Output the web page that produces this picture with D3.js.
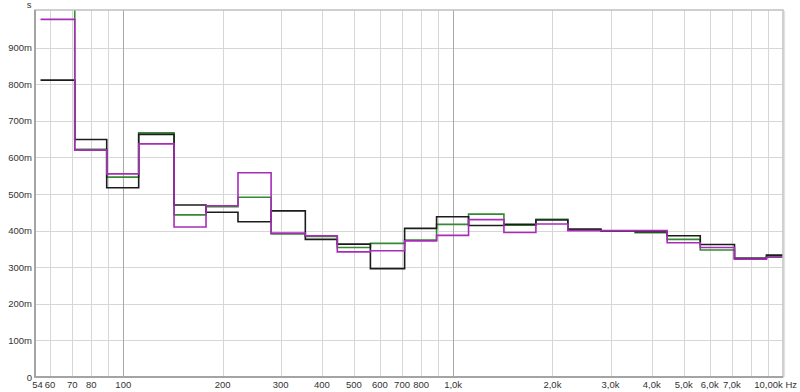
<!DOCTYPE html>
<html><head><meta charset="utf-8">
<script src="https://cdn.jsdelivr.net/npm/d3@7"></script>
<style>html,body{margin:0;padding:0;background:#fff;}svg{display:block;}</style>
</head><body>
<svg id="c" width="800" height="392"></svg>
<script>
// 1/3-octave band centre frequencies (Hz)
const bands = [63,80,100,125,160,200,250,315,400,500,630,800,1000,1250,1600,2000,2500,3150,4000,5000,6300,8000,10000];
// decay time values (s) per band
const seriesBlack   = [0.811,0.649,0.517,0.663,0.470,0.450,0.424,0.454,0.376,0.363,0.296,0.406,0.438,0.414,0.417,0.429,0.404,0.399,0.397,0.386,0.362,0.324,0.333];
const seriesGreen   = [1.050,0.622,0.546,0.667,0.443,0.465,0.491,0.391,0.384,0.354,0.365,0.374,0.417,0.445,0.415,0.431,0.402,0.399,0.394,0.376,0.347,0.324,0.330];
const seriesMagenta = [0.977,0.620,0.555,0.637,0.410,0.468,0.558,0.393,0.386,0.342,0.345,0.372,0.387,0.430,0.395,0.418,0.400,0.400,0.400,0.367,0.354,0.322,0.327];
// axis ticks
const xTickValues = [54,60,70,80,100,200,300,400,500,600,700,800,1000,2000,3000,4000,5000,6000,7000];
const xTickLabels = ["54","60","70","80","100","200","300","400","500","600","700","800","1,0k","2,0k","3,0k","4,0k","5,0k","6,0k","7,0k"];
const xGrid = [60,70,80,90,100,200,300,400,500,600,700,800,900,1000,2000,3000,4000,5000,6000,7000,8000,9000];
const yTickValues = [0,0.1,0.2,0.3,0.4,0.5,0.6,0.7,0.8,0.9];
const yTickLabels = ["0","100m","200m","300m","400m","500m","600m","700m","800m","900m"];

const svg = d3.select("#c");
const L = 35, R = 783, T = 10, B = 377;
const x = d3.scaleLog().domain([54,10000]).range([L,R]);
const y = d3.scaleLinear().domain([0,1]).range([377,11]);
const font = "'Liberation Sans', Arial, sans-serif";

svg.append("defs").append("clipPath").attr("id","clip")
  .append("rect").attr("x",L).attr("y",T).attr("width",R-L).attr("height",B-T);

// grid
const g = svg.append("g");
g.selectAll("line.h").data(yTickValues.slice(1)).enter().append("line")
  .attr("x1",L).attr("x2",R).attr("y1",d=>Math.round(y(d))+0.5).attr("y2",d=>Math.round(y(d))+0.5)
  .attr("stroke","#d6d6d6").attr("stroke-width",1);
g.selectAll("line.v").data(xGrid).enter().append("line")
  .attr("x1",d=>Math.round(x(d))+0.5).attr("x2",d=>Math.round(x(d))+0.5).attr("y1",T).attr("y2",B)
  .attr("stroke",d=>(d===100||d===1000)?"#a8a8a8":"#d6d6d6").attr("stroke-width",1);

// series
const k = Math.pow(2,1/6);
function stepPoints(vals){
  const pts = bands.map((f,i)=>[f/k, vals[i]]);
  pts.push([bands[bands.length-1]*k, vals[vals.length-1]]);
  return pts;
}
const line = d3.line().x(d=>x(d[0])).y(d=>y(d[1])).curve(d3.curveStepAfter);
const series = [
  {vals: seriesGreen, color: "#348a34"},
  {vals: seriesBlack, color: "#1c1c1c"},
  {vals: seriesMagenta, color: "#a82cb8"}
];
const sg = svg.append("g").attr("clip-path","url(#clip)");
series.forEach(s=>{
  sg.append("path").attr("d", line(stepPoints(s.vals)))
    .attr("fill","none").attr("stroke",s.color).attr("stroke-width",1.6);
});

// frame
svg.append("rect").attr("x",L).attr("y",T).attr("width",R-L).attr("height",B-T)
  .attr("fill","none").attr("stroke","#c0c0c0").attr("stroke-width",1.5);
svg.append("line").attr("x1",R+1.5).attr("x2",R+1.5).attr("y1",T+1).attr("y2",B)
  .attr("stroke","#e2e2e2").attr("stroke-width",1.2);
svg.append("line").attr("x1",L).attr("x2",L).attr("y1",T).attr("y2",B+1)
  .attr("stroke","#a4a4a4").attr("stroke-width",2);
svg.append("line").attr("x1",L).attr("x2",R).attr("y1",B).attr("y2",B)
  .attr("stroke","#a4a4a4").attr("stroke-width",2);

// y labels
svg.append("g").selectAll("text").data(yTickValues).enter().append("text")
  .attr("x",32).attr("y",d=>y(d)+3.5).attr("text-anchor","end")
  .attr("font-family",font).attr("font-size","9.5px").attr("fill","#333")
  .text((d,i)=>yTickLabels[i]);
svg.append("text").attr("x",29).attr("y",8).attr("text-anchor","middle")
  .attr("font-family",font).attr("font-size","9.5px").attr("fill","#333").text("s");

// x labels
svg.append("g").selectAll("text").data(xTickValues).enter().append("text")
  .attr("x",d=>d===54?37.5:x(d)).attr("y",388).attr("text-anchor","middle")
  .attr("font-family",font).attr("font-size","9.5px").attr("fill","#333")
  .text((d,i)=>xTickLabels[i]);
svg.append("text").attr("x",797).attr("y",388).attr("text-anchor","end")
  .attr("font-family",font).attr("font-size","9.5px").attr("fill","#333").text("10,00k Hz");
</script>
</body></html>
